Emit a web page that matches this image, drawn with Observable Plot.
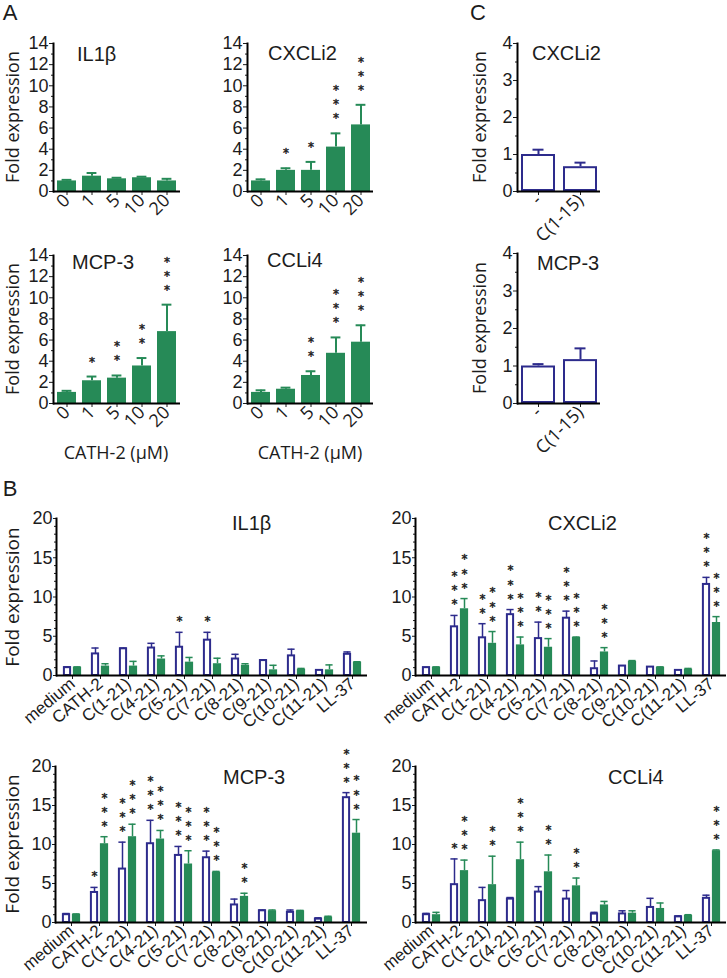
<!DOCTYPE html>
<html><head><meta charset="utf-8">
<script src="https://cdn.jsdelivr.net/npm/d3@7"></script>
<script src="https://cdn.jsdelivr.net/npm/@observablehq/plot@0.6"></script>
<style>
body{margin:0;background:#fff;}
#root{position:relative;width:727px;height:978px;overflow:hidden;background:#fff;color:#1c1c1c;font-family:"Liberation Sans",Arial,sans-serif}
.pl{position:absolute}
.lab{position:absolute;white-space:nowrap;line-height:1}
</style></head><body><div id="root"></div>
<script>
// ---------- Panel A: CATH-2 dose response (filled green bars) ----------
const doses = ["0","1","5","10","20"];
const aIL1b      = [1.0, 1.45, 1.2, 1.3, 1.0];
const aIL1bErr   = [1.1, 1.75, 1.3, 1.4, 1.2];
const aIL1bStars = [0, 0, 0, 0, 0];
const aCXCLi2      = [1.0, 2.0, 2.0, 4.2, 6.3];
const aCXCLi2Err   = [1.15, 2.2, 2.8, 5.5, 8.2];
const aCXCLi2Stars = [0, 1, 1, 3, 3];
const aMCP3      = [1.05, 2.15, 2.4, 3.55, 6.8];
const aMCP3Err   = [1.2, 2.55, 2.65, 4.3, 9.35];
const aMCP3Stars = [0, 1, 2, 2, 3];
const aCCLi4      = [1.05, 1.35, 2.65, 4.75, 5.8];
const aCCLi4Err   = [1.25, 1.5, 3.05, 6.25, 7.4];
const aCCLi4Stars = [0, 0, 2, 3, 3];

// ---------- Panel C: open bars ----------
const cCats = ["-", "C(1-15)"];
const cCXCLi2    = [1.0, 0.67];
const cCXCLi2Err = [1.13, 0.78];
const cMCP3      = [1.0, 1.17];
const cMCP3Err   = [1.05, 1.47];

// ---------- Panel B: peptides, open (blue outline) vs filled (green) ----------
const peptides = ["medium","CATH-2","C(1-21)","C(4-21)","C(5-21)","C(7-21)","C(8-21)","C(9-21)","C(10-21)","C(11-21)","LL-37"];
const bIL1bOpen       = [1.0, 2.75, 3.4, 3.5, 3.6, 4.5, 2.1, 1.9, 2.5, 0.65, 2.7];
const bIL1bOpenErr    = [1.1, 3.5, 3.5, 4.1, 5.5, 5.5, 2.7, 2.0, 3.35, 0.7, 3.0];
const bIL1bOpenStars  = [0,0,0,0,1,1,0,0,0,0,0];
const bIL1bFill       = [1.05, 1.2, 1.2, 2.1, 1.7, 1.5, 1.3, 0.72, 0.8, 0.72, 1.7];
const bIL1bFillErr    = [1.1, 1.5, 1.8, 2.5, 2.3, 2.2, 1.5, 1.3, 0.9, 1.35, 1.75];
const bIL1bFillStars  = [0,0,0,0,0,0,0,0,0,0,0];

const bCXCLi2Open      = [1.0, 6.2, 4.8, 7.75, 4.7, 7.3, 0.86, 1.2, 1.07, 0.65, 11.6];
const bCXCLi2OpenErr   = [1.05, 7.65, 6.6, 8.4, 6.8, 8.2, 1.85, 1.25, 1.1, 0.68, 12.5];
const bCXCLi2OpenStars = [0,3,2,3,2,3,0,0,0,0,3];
const bCXCLi2Fill      = [1.05, 8.5, 4.1, 3.9, 3.6, 4.85, 3.0, 1.8, 1.05, 0.8, 6.75];
const bCXCLi2FillErr   = [1.1, 9.8, 5.6, 4.9, 4.7, 4.9, 3.55, 1.9, 1.1, 0.9, 7.5];
const bCXCLi2FillStars = [0,3,3,3,3,3,3,0,0,0,3];

const bMCP3Open      = [1.0, 3.85, 6.85, 10.1, 8.6, 8.3, 2.25, 1.5, 1.3, 0.43, 16.0];
const bMCP3OpenErr   = [1.15, 4.5, 10.3, 13.1, 9.75, 9.15, 3.0, 1.6, 1.6, 0.6, 16.65];
const bMCP3OpenStars = [0,1,3,3,3,3,0,0,0,0,3];
const bMCP3Fill      = [1.05, 10.1, 11.0, 10.7, 7.5, 6.45, 3.35, 1.5, 1.5, 0.7, 11.45];
const bMCP3FillErr   = [1.1, 11.0, 12.6, 11.8, 9.2, 6.55, 3.75, 1.6, 1.55, 0.8, 13.2];
const bMCP3FillStars = [0,3,3,3,3,3,2,0,0,0,3];

const bCCLi4Open      = [1.0, 4.85, 2.8, 3.0, 3.9, 3.0, 1.08, 1.1, 1.93, 0.72, 3.1];
const bCCLi4OpenErr   = [1.17, 8.15, 4.5, 3.2, 4.6, 4.1, 1.3, 1.5, 3.1, 0.85, 3.5];
const bCCLi4OpenStars = [0,1,0,0,0,0,0,0,0,0,0];
const bCCLi4Fill      = [1.0, 6.65, 4.85, 8.05, 6.5, 4.7, 2.25, 1.2, 1.8, 0.9, 9.2];
const bCCLi4FillErr   = [1.3, 8.0, 8.5, 10.3, 8.65, 5.7, 2.7, 1.5, 2.5, 1.0, 9.3];
const bCCLi4FillStars = [0,3,2,3,2,2,0,0,0,0,3];

const aTicksMajor = [0,2,4,6,8,10,12,14];
const aTicksMinor = [1,3,5,7,9,11,13];
const bTicksMajor = [0,5,10,15,20];
const bTicksMinor = d3.range(0, 21).filter(v => v % 5);
const cTicksMajor = [0,1,2,3,4];
const cTicksMinor = [0.5,1.5,2.5,3.5];

// ---------- styles ----------
const GREEN = "#268a57", NAVY = "#2d2b8c", INK = "#1c1c1c";
const MYRIAD = '"Open Sans", "Noto Sans", sans-serif';
const ARIAL = '"Liberation Sans", Arial, sans-serif';
const STAR = '"DejaVu Sans", sans-serif';
const root = document.getElementById("root");

function place(node, left, top) {
  const d = document.createElement("div");
  d.className = "pl"; d.style.left = left + "px"; d.style.top = top + "px";
  d.appendChild(node); root.appendChild(d);
}
function label(text, x, y, size, family, mode) {
  const d = document.createElement("div");
  d.className = "lab"; d.textContent = text;
  d.style.left = x + "px"; d.style.top = y + "px";
  d.style.fontSize = size + "px"; d.style.fontFamily = family;
  d.style.transform = mode === "rot" ? "translate(-50%,-50%) rotate(-90deg)"
                    : mode === "center" ? "translate(-50%,-50%)" : "translate(0,-50%)";
  root.appendChild(d);
}
const starText = n => Array(n).fill("*").join("\n");
const intFmt = d => String(d);
const starStyle = {lineAnchor: "bottom", lineHeight: 1.17, fontSize: 12, fontFamily: STAR,
  fill: INK, stroke: INK, strokeWidth: 0.45};

function singlePlot(o) {
  const data = o.cats.map((c, i) => ({c, v: o.vals[i], e: o.errs[i], s: o.stars ? o.stars[i] : 0}));
  const col = o.filled ? GREEN : NAVY;
  return Plot.plot({
    width: o.W, height: o.H, marginLeft: o.ml, marginRight: o.mr, marginTop: o.mt, marginBottom: o.mb,
    style: {background: "transparent", overflow: "visible", fontFamily: MYRIAD, fontSize: "18px", color: INK},
    x: {domain: o.cats, paddingInner: o.padIn, paddingOuter: o.padOut, label: null},
    y: {domain: [0, o.yMax], label: null},
    marks: [
      Plot.ruleX(data, {x: "c", y1: "v", y2: "e", stroke: col, strokeWidth: 2}),
      Plot.tickY(data, {x: "c", y: "e", stroke: col, strokeWidth: 2, inset: o.capInset}),
      o.filled
        ? Plot.barY(data, {x: "c", y: "v", fill: GREEN})
        : Plot.barY(data, {x: "c", y: "v", fill: "white", stroke: NAVY, strokeWidth: 2, inset: 1}),
      Plot.text(data.filter(d => d.s > 0), {x: "c", y: "e", text: d => starText(d.s), dy: -11, ...starStyle}),
      Plot.axisY({ticks: o.minor, tickSize: 2, fill: "none"}),
      Plot.axisY({ticks: o.major, tickSize: 4, tickPadding: 1, tickFormat: intFmt,
        fontSize: 18, fontFamily: ARIAL}),
      Plot.axisX({tickRotate: -45, tickSize: 4, tickPadding: 2, fontSize: o.xFont}),
      Plot.frame({anchor: "left", stroke: "black", strokeWidth: 2}),
      Plot.ruleY([0], {stroke: "black", strokeWidth: 2})
    ]
  });
}

function pairedPlot(o) {
  const data = peptides.map((c, i) => ({c,
    a: o.open[i], ae: o.openErr[i], as: o.openStars[i],
    b: o.fill[i], be: o.fillErr[i], bs: o.fillStars[i]}));
  return Plot.plot({
    width: o.W, height: o.H, marginLeft: o.ml, marginRight: o.mr, marginTop: o.mt, marginBottom: o.mb,
    style: {background: "transparent", overflow: "visible", fontFamily: ARIAL, fontSize: "17px", color: INK},
    x: {domain: peptides, paddingInner: 0.3, paddingOuter: 0.15, label: null},
    y: {domain: [0, 20], label: null},
    marks: [
      Plot.ruleX(data, {x: "c", y1: "a", y2: "ae", dx: -5, stroke: NAVY, strokeWidth: 1.5}),
      Plot.tickY(data, {x: "c", y: "ae", insetLeft: 1.4, insetRight: 11.4, stroke: NAVY, strokeWidth: 1.5}),
      Plot.ruleX(data, {x: "c", y1: "b", y2: "be", dx: 5, stroke: GREEN, strokeWidth: 1.5}),
      Plot.tickY(data, {x: "c", y: "be", insetLeft: 11.4, insetRight: 1.4, stroke: GREEN, strokeWidth: 1.5}),
      Plot.barY(data, {x: "c", y: "a", insetLeft: 1.9, insetRight: 11.9, fill: "white", stroke: NAVY, strokeWidth: 2}),
      Plot.barY(data, {x: "c", y: "b", insetLeft: 10.9, insetRight: 0.9, fill: GREEN}),
      Plot.text(data.filter(d => d.as > 0), {x: "c", y: "ae", text: d => starText(d.as), dx: -5, dy: -7, ...starStyle}),
      Plot.text(data.filter(d => d.bs > 0), {x: "c", y: "be", text: d => starText(d.bs), dx: 5, dy: -7, ...starStyle}),
      Plot.axisY({ticks: bTicksMinor, tickSize: 2, fill: "none"}),
      Plot.axisY({ticks: bTicksMajor, tickSize: 3, tickPadding: 1, fontSize: 18}),
      Plot.axisX({tickRotate: -40, tickSize: 4, tickPadding: 2, fontSize: 17}),
      Plot.frame({anchor: "left", stroke: "black", strokeWidth: 2}),
      Plot.ruleY([0], {stroke: "black", strokeWidth: 2})
    ]
  });
}

// ----- Panel A -----
const aCommon = {cats: doses, filled: true, yMax: 14, major: aTicksMajor, minor: aTicksMinor,
  padIn: 0.25, padOut: 0.1, capInset: 4.6, xFont: 18, H: 205, mt: 23, mb: 34};
place(singlePlot({...aCommon, vals: aIL1b, errs: aIL1bErr, stars: aIL1bStars, W: 190, ml: 53, mr: 10}), 0, 20);
place(singlePlot({...aCommon, vals: aCXCLi2, errs: aCXCLi2Err, stars: aCXCLi2Stars, W: 195, ml: 57, mr: 12}), 190, 20);
place(singlePlot({...aCommon, vals: aMCP3, errs: aMCP3Err, stars: aMCP3Stars, W: 190, ml: 53, mr: 10}), 0, 232);
place(singlePlot({...aCommon, vals: aCCLi4, errs: aCCLi4Err, stars: aCCLi4Stars, W: 195, ml: 57, mr: 12}), 190, 232);

// ----- Panel C -----
const cCommon = {cats: cCats, filled: false, yMax: 4, major: cTicksMajor, minor: cTicksMinor,
  padIn: 0.2, padOut: 0.08, capInset: 11.5, xFont: 18, W: 120, ml: 27, mr: 10, H: 205, mb: 34};
place(singlePlot({...cCommon, vals: cCXCLi2, errs: cCXCLi2Err, mt: 23}), 490, 20);
place(singlePlot({...cCommon, vals: cMCP3, errs: cMCP3Err, mt: 21}), 490, 232);

// ----- Panel B -----
place(pairedPlot({open: bIL1bOpen, openErr: bIL1bOpenErr, openStars: bIL1bOpenStars,
  fill: bIL1bFill, fillErr: bIL1bFillErr, fillStars: bIL1bFillStars,
  W: 370, H: 235, ml: 56, mr: 3, mt: 18, mb: 60}), 0, 500);
place(pairedPlot({open: bCXCLi2Open, openErr: bCXCLi2OpenErr, openStars: bCXCLi2OpenStars,
  fill: bCXCLi2Fill, fillErr: bCXCLi2FillErr, fillStars: bCXCLi2FillStars,
  W: 352, H: 235, ml: 40, mr: 1, mt: 18, mb: 60}), 375, 500);
place(pairedPlot({open: bMCP3Open, openErr: bMCP3OpenErr, openStars: bMCP3OpenStars,
  fill: bMCP3Fill, fillErr: bMCP3FillErr, fillStars: bMCP3FillStars,
  W: 370, H: 243, ml: 55, mr: 3, mt: 31, mb: 56}), 0, 735);
place(pairedPlot({open: bCCLi4Open, openErr: bCCLi4OpenErr, openStars: bCCLi4OpenStars,
  fill: bCCLi4Fill, fillErr: bCCLi4FillErr, fillStars: bCCLi4FillStars,
  W: 352, H: 243, ml: 40, mr: 1, mt: 31, mb: 56}), 375, 735);

// ----- text labels -----
label("A", 10, 13, 22, ARIAL, "center");
label("B", 10, 489, 22, ARIAL, "center");
label("C", 478, 13, 22, ARIAL, "center");

label("IL1β", 77, 54, 20, ARIAL);
label("CXCLi2", 268, 53, 20, ARIAL);
label("MCP-3", 72, 262, 20, ARIAL);
label("CCLi4", 267, 260, 20, ARIAL);
label("CXCLi2", 532, 53, 20, ARIAL);
label("MCP-3", 537, 263, 20, ARIAL);
label("IL1β", 232, 523, 20, ARIAL);
label("CXCLi2", 548, 523, 20, ARIAL);
label("MCP-3", 223, 777, 20, ARIAL);
label("CCLi4", 608, 777, 20, ARIAL);

label("Fold expression", 12, 117, 18, MYRIAD, "rot");
label("Fold expression", 12, 329, 18, MYRIAD, "rot");
label("Fold expression", 479, 117, 18, MYRIAD, "rot");
label("Fold expression", 479, 328, 18, MYRIAD, "rot");
label("Fold expression", 12, 597, 19, MYRIAD, "rot");
label("Fold expression", 12, 844, 19, MYRIAD, "rot");

label("CATH-2 (μM)", 116, 452, 18, MYRIAD, "center");
label("CATH-2 (μM)", 310, 452, 18, MYRIAD, "center");
</script></body></html>
